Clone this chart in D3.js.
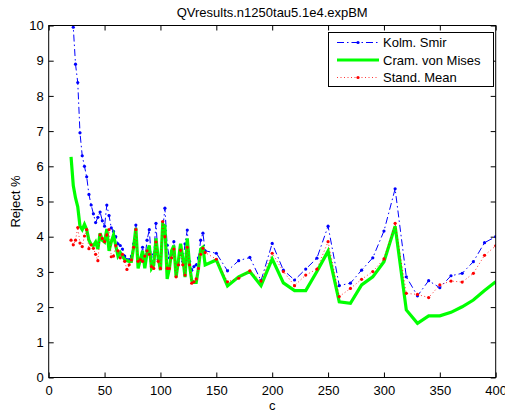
<!DOCTYPE html>
<html>
<head>
<meta charset="utf-8">
<script src="https://cdn.jsdelivr.net/npm/d3@7.9.0/dist/d3.min.js"></script>
<style>
  body { margin: 0; background: #fff; }
  svg { display: block; font-family: "Liberation Sans", Arial, Helvetica, sans-serif; }
  .axis text { font-size: 13px; fill: #000; }
  .axis line { stroke: #000; }
</style>
</head>
<body>
<svg id="chart" width="505" height="414"></svg>
<script>
// ── Data ───────────────────────────────────────────────────────────────────
const cValues = [
  20, 22, 24, 26, 28, 30, 32, 34, 36, 38, 40, 42, 44, 46, 48, 50, 52, 54, 56, 58,
  60, 62, 64, 66, 68, 70, 72, 74, 76, 78, 80, 82, 84, 86, 88, 90, 92, 94, 96, 98,
  100, 102, 104, 106, 108, 110, 112, 114, 116, 118, 120, 122, 124, 126, 128, 130,
  132, 134, 136, 138, 140,
  150, 160, 170, 180, 190, 200, 210, 220, 230, 240, 250, 260, 270, 280, 290, 300,
  310, 320, 330, 340, 350, 360, 370, 380, 390, 400
];

const kolmSmir = [
  11.8, 9.95, 8.9, 8.38, 6.95, 6.3, 6.0, 5.7, 5.2, 4.9, 4.65, 4.4, 4.55, 4.7, 4.45, 4.3, 4.9, 4.6, 4.25, 4.15,
  4.0, 3.8, 3.75, 3.65, 3.45, 3.35, 3.35, 3.45, 3.8, 4.33, 3.4, 3.3, 3.7, 3.35, 3.9, 4.2, 3.3, 3.5, 4.38, 3.35,
  3.2, 4.2, 4.81, 3.76, 3.4, 3.5, 3.86, 3.1, 3.2, 3.5, 3.3, 3.8, 4.19, 3.3, 3.05, 3.15,
  3.2, 3.4, 3.9, 4.1, 3.6,
  3.53, 3.03, 3.32, 3.41, 2.75, 3.81, 3.05, 2.77, 3.08, 3.39, 4.3, 2.61, 2.68, 3.05, 3.4, 4.16,
  5.36, 2.86, 2.32, 2.75, 2.55, 2.89, 2.96, 3.29, 3.83, 4.0
];

const cramVonMises = [
  6.27, 5.45, 5.1, 4.85, 4.3, 4.2, 4.35, 4.2, 3.9, 3.78, 3.75, 3.85, 3.65, 4.1, 3.9, 3.85, 4.22, 3.6, 3.85, 4.05,
  3.75, 3.45, 3.55, 3.45, 3.35, 3.32, 3.3, 3.3, 3.7, 4.25, 3.1, 3.35, 3.6, 3.1, 3.55, 3.75, 3.1, 3.2, 3.95, 3.4,
  3.05, 4.35, 4.3, 2.8, 3.1, 3.6, 3.75, 2.85, 3.3, 3.8, 3.4, 2.85, 3.95, 3.2, 2.75, 2.7,
  2.7, 3.1, 3.65, 3.7, 3.2,
  3.34, 2.6, 2.86, 3.01, 2.61, 3.37, 2.69, 2.47, 2.47, 3.01, 3.59, 2.15, 2.11, 2.63, 2.86, 3.29,
  4.3, 1.92, 1.54, 1.75, 1.75, 1.85, 2.01, 2.2, 2.47, 2.72
];

const standMean = [
  3.9, 3.77, 3.9, 4.26, 3.82, 3.72, 4.02, 4.2, 3.66, 3.77, 3.67, 3.5, 3.32, 4.05, 3.95, 3.86, 4.05, 4.2, 3.43, 3.45,
  3.75, 3.6, 3.4, 3.5, 3.3, 3.07, 3.2, 3.34, 3.7, 4.2, 3.3, 3.35, 3.3, 3.45, 3.6, 3.5, 3.15, 3.1, 3.85, 3.3,
  3.1, 4.43, 4.0, 3.1, 3.1, 3.4, 3.65, 2.86, 3.2, 3.62, 3.2, 2.91, 3.7, 3.2, 2.68, 2.72,
  2.8, 3.1, 3.5, 3.67, 3.55,
  3.36, 2.72, 2.82, 3.03, 2.74, 3.53, 3.01, 2.61, 2.91, 3.08, 3.86, 2.3, 2.53, 2.79, 3.01, 3.37,
  4.38, 2.39, 2.36, 2.27, 2.63, 2.74, 2.71, 2.96, 3.47, 3.74
];

const xTicks = [0, 50, 100, 150, 200, 250, 300, 350, 400];
const yTicks = [0, 1, 2, 3, 4, 5, 6, 7, 8, 9, 10];

const titleText = 'QVresults.n1250tau5.1e4.expBM';

// ── Layout ────────────────────────────────────────────────────────────────
const plotLeft = 48.7, plotRight = 495.7, plotTop = 25.5, plotBottom = 377.5;

const x = d3.scaleLinear().domain([0, 400]).range([plotLeft, plotRight]);
const y = d3.scaleLinear().domain([0, 10]).range([plotBottom, plotTop]);

const svg = d3.select('#chart');

svg.append('defs').append('clipPath').attr('id', 'plot-clip')
  .append('rect')
  .attr('x', plotLeft).attr('y', plotTop)
  .attr('width', plotRight - plotLeft).attr('height', plotBottom - plotTop);

// ── Axes (MATLAB style: inward ticks, box on) ─────────────────────────────
svg.append('g').attr('class', 'axis')
  .attr('transform', `translate(0,${plotBottom})`)
  .call(d3.axisBottom(x).tickValues(xTicks).tickSize(-5).tickPadding(8).tickFormat(d3.format('d')))
  .call((g) => g.select('.domain').remove());

svg.append('g').attr('class', 'axis')
  .attr('transform', `translate(0,${plotTop})`)
  .call(d3.axisTop(x).tickValues(xTicks).tickSize(-5).tickFormat(''))
  .call((g) => g.select('.domain').remove());

svg.append('g').attr('class', 'axis')
  .attr('transform', `translate(${plotLeft},0)`)
  .call(d3.axisLeft(y).tickValues(yTicks).tickSize(-5).tickPadding(5).tickFormat(d3.format('d')))
  .call((g) => g.select('.domain').remove());

svg.append('g').attr('class', 'axis')
  .attr('transform', `translate(${plotRight},0)`)
  .call(d3.axisRight(y).tickValues(yTicks).tickSize(-5).tickFormat(''))
  .call((g) => g.select('.domain').remove());

// ── Series ────────────────────────────────────────────────────────────────
const series = [
  { name: 'Kolm. Smir', values: kolmSmir, color: '#0000ff', width: 1, dash: '7,3,1.5,3', marker: 1.6 },
  { name: 'Cram. von Mises', values: cramVonMises, color: '#00ff00', width: 3.2, dash: null, marker: 0 },
  { name: 'Stand. Mean', values: standMean, color: '#ff0000', width: 0.8, dash: '1,2.5', marker: 1.6 },
];

const plot = svg.append('g').attr('clip-path', 'url(#plot-clip)');

series.forEach((s) => {
  const pts = cValues.map((c, k) => [c, s.values[k]]);
  const line = d3.line().x((d) => x(d[0])).y((d) => y(d[1]));
  plot.append('path')
    .attr('d', line(pts))
    .attr('fill', 'none')
    .attr('stroke', s.color)
    .attr('stroke-width', s.width)
    .attr('stroke-dasharray', s.dash);
  if (s.marker) {
    plot.selectAll(null)
      .data(pts)
      .enter()
      .append('circle')
      .attr('cx', (d) => x(d[0]))
      .attr('cy', (d) => y(d[1]))
      .attr('r', s.marker)
      .attr('fill', s.color);
  }
});

// box
svg.append('rect')
  .attr('x', plotLeft).attr('y', plotTop)
  .attr('width', plotRight - plotLeft).attr('height', plotBottom - plotTop)
  .attr('fill', 'none').attr('stroke', '#000').attr('stroke-width', 1);

// ── Labels ────────────────────────────────────────────────────────────────
svg.append('text')
  .attr('x', (plotLeft + plotRight) / 2).attr('y', 17)
  .attr('text-anchor', 'middle').attr('font-size', 13)
  .text(titleText);

svg.append('text')
  .attr('x', (plotLeft + plotRight) / 2).attr('y', 410)
  .attr('text-anchor', 'middle').attr('font-size', 13)
  .text('c');

svg.append('text')
  .attr('transform', `translate(20,${(plotTop + plotBottom) / 2}) rotate(-90)`)
  .attr('text-anchor', 'middle').attr('font-size', 13)
  .text('Reject %');

// ── Legend ────────────────────────────────────────────────────────────────
const legend = svg.append('g');
legend.append('rect')
  .attr('x', 328.5).attr('y', 32.5)
  .attr('width', 165).attr('height', 54)
  .attr('fill', '#fff').attr('stroke', '#000').attr('stroke-width', 1);

series.forEach((s, i) => {
  const ly = 42.5 + i * 17.5;
  legend.append('line')
    .attr('x1', 337).attr('x2', 379)
    .attr('y1', ly).attr('y2', ly)
    .attr('stroke', s.color)
    .attr('stroke-width', s.width)
    .attr('stroke-dasharray', s.dash);
  if (s.marker) {
    legend.append('circle')
      .attr('cx', 358).attr('cy', ly).attr('r', s.marker)
      .attr('fill', s.color);
  }
  legend.append('text')
    .attr('x', 383).attr('y', ly + 4.5)
    .attr('font-size', 13)
    .text(s.name);
});
</script>
</body>
</html>
